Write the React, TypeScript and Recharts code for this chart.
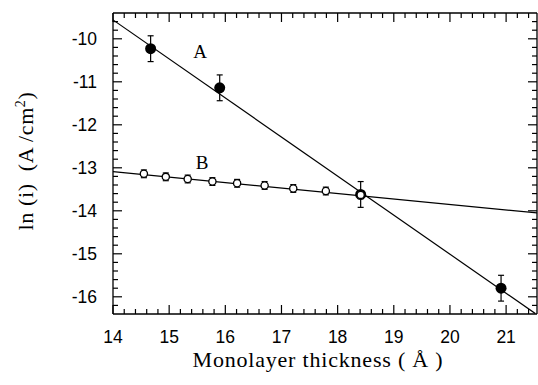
import { ComposedChart, Line, Scatter, ErrorBar, XAxis, YAxis } from "recharts";

const seriesA = [
  { x: 14.67, y: -10.23, err: 0.3 },
  { x: 15.9, y: -11.14, err: 0.3 },
  { x: 18.41, y: -13.62, err: 0.3 },
  { x: 20.91, y: -15.8, err: 0.3 },
];
const seriesB = [
  { x: 14.55, y: -13.14, err: 0.09 },
  { x: 14.94, y: -13.21, err: 0.09 },
  { x: 15.33, y: -13.26, err: 0.09 },
  { x: 15.77, y: -13.32, err: 0.09 },
  { x: 16.21, y: -13.36, err: 0.09 },
  { x: 16.7, y: -13.41, err: 0.09 },
  { x: 17.21, y: -13.48, err: 0.09 },
  { x: 17.79, y: -13.54, err: 0.09 },
  { x: 18.41, y: -13.63, err: 0.09 },
];
// fitted lines, endpoints read where they meet the frame
const fitA = [
  { x: 14, y: -9.56 },
  { x: 21.52, y: -16.39 },
];
const fitB = [
  { x: 14, y: -13.09 },
  { x: 21.55, y: -14.05 },
];

const xMajor = [14, 15, 16, 17, 18, 19, 20, 21];
const yMajor = [-16, -15, -14, -13, -12, -11, -10];
const xDomain = [14, 21.55];
const yDomain = [-16.4, -9.4];

const steps = (from: number, to: number, step: number) => {
  const out: number[] = [];
  for (let v = from; v <= to + 1e-9; v += step) out.push(Math.round(v * 10) / 10);
  return out;
};
const xTicks = steps(14, 21.4, 0.2);
const yTicks = steps(-16.2, -9.6, 0.2);

const isMajor = (v: number, list: number[]) => list.some((m) => Math.abs(m - v) < 1e-6);

const tickFont = { fontFamily: "'Liberation Sans', Arial, sans-serif", fontSize: 17.5, fill: "#000" };
const serif = "'Liberation Serif', 'Times New Roman', serif";
const tickStroke = { stroke: "#000", strokeWidth: 1.2, fill: "none" };

const bottomTick = (p: any) => {
  const major = isMajor(p.payload.value, xMajor);
  return (
    <g>
      <path d={`M${p.x},${p.y}V${p.y - (major ? 9 : 5)}`} {...tickStroke} />
      {major && (
        <text x={p.x} y={p.y + 29} textAnchor="middle" {...tickFont}>
          {p.payload.value}
        </text>
      )}
    </g>
  );
};
const topTick = (p: any) => {
  const major = isMajor(p.payload.value, xMajor);
  return <path d={`M${p.x},${p.y}V${p.y + (major ? 9 : 5)}`} {...tickStroke} />;
};
const leftTick = (p: any) => {
  const major = isMajor(p.payload.value, yMajor);
  return (
    <g>
      <path d={`M${p.x},${p.y}H${p.x + (major ? 9 : 5)}`} {...tickStroke} />
      {major && (
        <text x={p.x - 16} y={p.y + 6} textAnchor="end" {...tickFont}>
          {p.payload.value}
        </text>
      )}
    </g>
  );
};
const rightTick = (p: any) => {
  const major = isMajor(p.payload.value, yMajor);
  return <path d={`M${p.x},${p.y}H${p.x - (major ? 9 : 5)}`} {...tickStroke} />;
};

const filledDot = (p: any) => <circle cx={p.cx} cy={p.cy} r={5.5} fill="#000" />;
const openDot = (p: any) => <circle cx={p.cx} cy={p.cy} r={3.6} fill="#fff" stroke="#000" strokeWidth={1.3} />;
const noDot = () => <g />;

export default function App() {
  return (
    <div style={{ position: "absolute", left: 0, top: 0, width: 538, height: 385, background: "#fff" }}>
      <ComposedChart width={538} height={385} margin={{ top: 12, right: 0, bottom: 0, left: 0 }}>
        <XAxis
          dataKey="x"
          type="number"
          domain={xDomain}
          ticks={xTicks}
          interval={0}
          height={71}
          tickSize={0}
          tickMargin={0}
          tick={bottomTick}
          axisLine={{ stroke: "#000", strokeWidth: 1.3 }}
          allowDataOverflow
        />
        <XAxis
          xAxisId="top"
          dataKey="x"
          orientation="top"
          type="number"
          domain={xDomain}
          ticks={xTicks}
          interval={0}
          height={1}
          tickSize={0}
          tickMargin={0}
          tick={topTick}
          axisLine={{ stroke: "#000", strokeWidth: 1.3 }}
          allowDataOverflow
        />
        <YAxis
          dataKey="y"
          type="number"
          domain={yDomain}
          ticks={yTicks}
          interval={0}
          width={113}
          tickSize={0}
          tickMargin={0}
          tick={leftTick}
          axisLine={{ stroke: "#000", strokeWidth: 1.3 }}
          allowDataOverflow
        />
        <YAxis
          yAxisId="right"
          dataKey="y"
          orientation="right"
          type="number"
          domain={yDomain}
          ticks={yTicks}
          interval={0}
          width={1}
          tickSize={0}
          tickMargin={0}
          tick={rightTick}
          axisLine={{ stroke: "#000", strokeWidth: 1.3 }}
          allowDataOverflow
        />
        <Line data={fitA} dataKey="y" type="linear" stroke="#000" strokeWidth={1.2} dot={false} isAnimationActive={false} />
        <Line data={fitB} dataKey="y" type="linear" stroke="#000" strokeWidth={1.2} dot={false} isAnimationActive={false} />
        <Scatter data={fitB} xAxisId="top" yAxisId="right" shape={noDot} isAnimationActive={false} />
        <Scatter data={seriesA} shape={filledDot} isAnimationActive={false}>
          <ErrorBar dataKey="err" direction="y" width={3} stroke="#000" strokeWidth={1.2} isAnimationActive={false} />
        </Scatter>
        <Scatter data={seriesB} shape={openDot} isAnimationActive={false}>
          <ErrorBar dataKey="err" direction="y" width={3} stroke="#000" strokeWidth={1.2} isAnimationActive={false} />
        </Scatter>
      </ComposedChart>
      <svg width={538} height={385} style={{ position: "absolute", left: 0, top: 0, pointerEvents: "none" }}>
        <text x={200} y={57.5} textAnchor="middle" fontFamily={serif} fontSize={19}>A</text>
        <text x={202} y={168.5} textAnchor="middle" fontFamily={serif} fontSize={19}>B</text>
        <text
          x={318}
          y={367}
          textAnchor="middle"
          fontFamily={serif}
          fontSize={22}
          letterSpacing={0.8}
          style={{ whiteSpace: "pre" }}
        >
          Monolayer thickness ( Å )
        </text>
        <text
          transform="translate(33,161) rotate(-90)"
          textAnchor="middle"
          fontFamily={serif}
          fontSize={22}
          letterSpacing={0.6}
          style={{ whiteSpace: "pre" }}
        >
          {"ln (i)  (A /cm"}
          <tspan dy={-8} fontSize={14}>2</tspan>
          <tspan dy={8}>)</tspan>
        </text>
      </svg>
    </div>
  );
}
